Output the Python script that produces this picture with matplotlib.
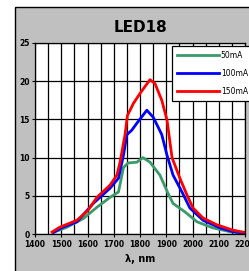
import numpy as np
import matplotlib.pyplot as plt
from matplotlib.patches import Rectangle

# wavelength (nm) / intensity readings for each drive current
nm_50 = [1470, 1522, 1583, 1636, 1686, 1718, 1737, 1755, 1788, 1811, 1838, 1876, 1907, 1926, 1971, 2017, 2078, 2143, 2200]
i_50 = [0.2, 0.9, 2.0, 3.5, 4.8, 5.5, 8.7, 9.3, 9.4, 10.0, 9.4, 7.7, 5.3, 4.0, 2.9, 1.6, 0.8, 0.3, 0.1]

nm_100 = [1470, 1500, 1560, 1622, 1686, 1718, 1737, 1750, 1769, 1788, 1826, 1850, 1869, 1883, 1903, 1926, 1960, 1990, 2040, 2105, 2154, 2200]
i_100 = [0.2, 0.8, 1.6, 4.0, 6.0, 7.3, 10.3, 13.0, 13.6, 14.5, 16.2, 15.3, 14.0, 13.0, 10.3, 7.7, 5.5, 3.4, 1.8, 0.8, 0.3, 0.1]

nm_150 = [1465, 1495, 1560, 1602, 1636, 1686, 1712, 1724, 1743, 1752, 1775, 1800, 1838, 1857, 1883, 1903, 1922, 1952, 1979, 2002, 2040, 2093, 2154, 2200]
i_150 = [0.26, 0.9, 1.8, 3.1, 4.8, 6.4, 7.7, 9.4, 13.0, 15.5, 17.1, 18.4, 20.2, 19.7, 17.5, 14.9, 10.0, 7.3, 5.1, 3.4, 2.1, 1.2, 0.5, 0.2]

labels = ['50mA', '100mA', '150mA']
colors = ['#3a9a6a', '#0000ff', '#ff0000']

fig = plt.figure(figsize=(2.49, 2.71), dpi=100)
fig.patches.append(Rectangle((15/249, -0.05), 1.0, 1 - 7/271 + 0.05, transform=fig.transFigure,
                             facecolor='#c0c0c0', edgecolor='black', linewidth=1.0, zorder=-10))

ax = fig.add_axes([35/249, 1 - 234/271, 210/249, 191/271])
ax.set_zorder(1)
ax.set_facecolor('white')

for xs, ys, lab, c in zip([nm_50, nm_100, nm_150], [i_50, i_100, i_150], labels, colors):
    ax.plot(xs, ys, color=c, linewidth=2, label=lab)

ax.set_xlim(1400, 2200)
ax.set_ylim(0, 25)
ax.set_xticks(np.arange(1400, 2201, 100))
ax.set_xticks(np.arange(1400, 2201, 50), minor=True)
ax.set_yticks(np.arange(0, 26, 5))
ax.grid(True, which='both', axis='x', color='black', linewidth=0.9)
ax.grid(True, which='major', axis='y', color='black', linewidth=0.9)
ax.tick_params(axis='both', which='major', labelsize=5.5, length=2, width=0.8, pad=2)
ax.tick_params(axis='x', which='minor', length=0)
for lbl in ax.get_xticklabels() + ax.get_yticklabels():
    lbl.set_fontweight('bold')
for s in ax.spines.values():
    s.set_color('black')
    s.set_linewidth(0.9)

ax.set_title('LED18', fontsize=11, fontweight='bold', pad=8)
ax.set_xlabel('λ, nm', fontsize=7, fontweight='bold', labelpad=4)

leg = ax.legend(loc='upper left', bbox_to_anchor=(0.652, 0.984), fontsize=5.5,
                handlelength=5.6, fancybox=False, edgecolor='black', framealpha=1,
                borderaxespad=0, labelspacing=1.2, handletextpad=0.2, borderpad=0.6)
leg.get_frame().set_linewidth(0.9)

fig.savefig('out.png', dpi=100)
